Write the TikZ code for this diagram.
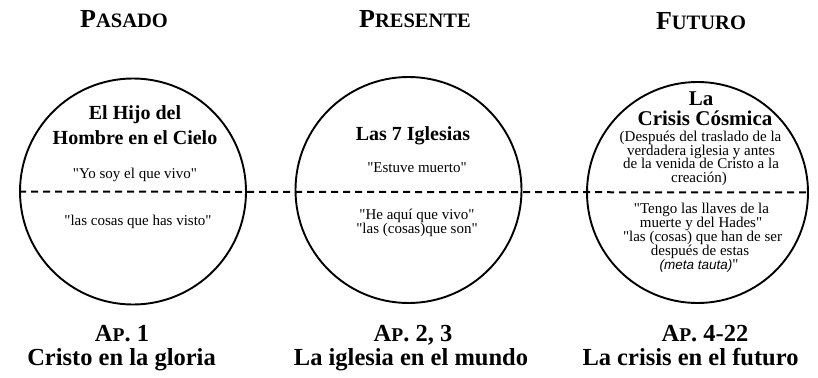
\documentclass[tikz,border=0pt]{standalone}
\usepackage{fontspec}
\setmainfont{Liberation Serif}
\newfontfamily\qf{Liberation Serif}
\newfontfamily\sansfam{Liberation Sans}
\newcommand{\hdsc}[2]{{\fontsize{26}{30}\selectfont #1{\fontsize{20.5}{24}\selectfont #2}}}
\newcommand{\ftsc}[3]{{#1{\fontsize{19.5}{24}\selectfont #2}#3}}
\begin{document}
\begin{tikzpicture}[x=1pt,y=-1pt,
  ring/.style={circle, draw, line width=1.9pt, inner sep=0pt},
  divider/.style={line width=2pt, dash pattern=on 7pt off 5pt},
  head/.style={anchor=base, inner sep=0pt, font=\qf\bfseries},
  big/.style={anchor=base, inner sep=0pt, font=\qf\fontsize{20}{24}\selectfont\bfseries},
  bigc/.style={anchor=base, inner sep=0pt, font=\qf\fontsize{21}{24}\selectfont\bfseries},
  txt/.style={anchor=base, inner sep=0pt, font=\qf\fontsize{15}{18}\selectfont},
  foot/.style={anchor=base, inner sep=0pt, font=\qf\fontsize{24.5}{28}\selectfont\bfseries}]
\useasboundingbox (0,0) rectangle (818,377);
\fill[white] (0,0) rectangle (818,377);

% headings
\node[head] (h1) at (124,28) {\hdsc{P}{ASADO}};
\node[head] (h2) at (415,28) {\hdsc{P}{RESENTE}};
\node[head] (h3) at (701,30) {\hdsc{F}{UTURO}};

% circles
\node[ring, minimum size=226pt] (c1) at (133,191.5) {};
\node[ring, minimum size=226pt] (c2) at (408.5,190) {};
\node[ring, minimum size=221pt] (c3) at (697.5,192.5) {};
\draw[divider] (c1.west) -- (c3.east);

% circle 1
\node[big] (a1) at (135,120) {El Hijo del};
\node[big] (a2) at (135,144) {Hombre en el Cielo};
\node[txt] (a3) at (135,178) {"Yo soy el que vivo"};
\node[txt] (a4) at (138,225) {"las cosas que has visto"};

% circle 2
\node[big] (b1) at (413,140) {Las 7 Iglesias};
\node[txt] (b2) at (417,172) {"Estuve muerto"};
\node[txt] (b3) at (417,219) {"He aquí que vivo"};
\node[txt] (b4) at (417,233.5) {"las (cosas)que son"};

% circle 3
\node[bigc] (d1) at (701,106) {La};
\node[bigc] (d2) at (705,125) {Crisis Cósmica};
\node[txt] (d3) at (700.5,141) {(Después del traslado de la};
\node[txt] (d4) at (701,155) {verdadera iglesia y antes};
\node[txt] (d5) at (701,168.5) {de la venida de Cristo a la};
\node[txt] (d6) at (699,182) {creación)};
\node[txt] (e1) at (701.5,213) {"Tengo las llaves de la};
\node[txt] (e2) at (701,227.5) {muerte y del Hades"};
\node[txt] (e3) at (702.5,241.5) {"las (cosas) que han de ser};
\node[txt] (e4) at (700,255.5) {después de estas};
\node[anchor=base, inner sep=0pt] (e5) at (699,269) {{\sansfam\itshape\fontsize{13.5}{16}\selectfont (meta tauta)}{\qf\fontsize{15}{18}\selectfont"}};

% footers
\node[foot] (f1) at (122,341) {\ftsc{A}{P}{. 1}};
\node[foot] (g1) at (121.5,365) {Cristo en la gloria};
\node[foot] (f2) at (413,341) {\ftsc{A}{P}{. 2, 3}};
\node[foot] (g2) at (411,365) {La iglesia en el mundo};
\node[foot] (f3) at (705,341) {\ftsc{A}{P}{. 4-22}};
\node[foot] (g3) at (690.5,365) {La crisis en el futuro};
\end{tikzpicture}
\end{document}
